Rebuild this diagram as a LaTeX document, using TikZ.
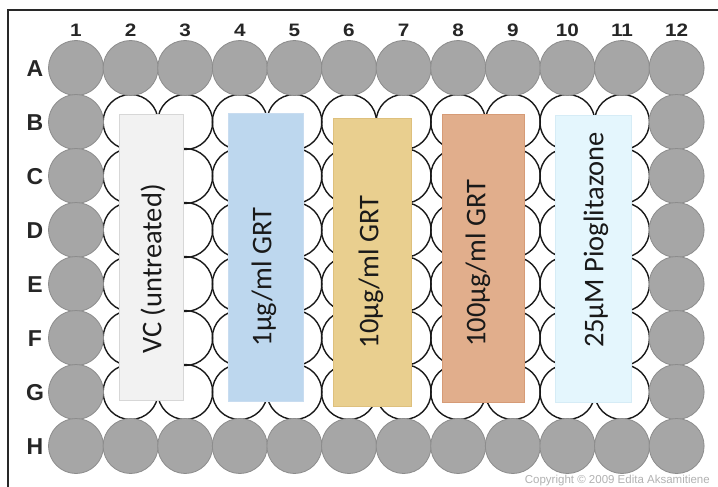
\documentclass[tikz,border=0pt]{standalone}
\usepackage{fontspec}
\setmainfont{Carlito}
\newfontfamily\arialf{Liberation Sans}
\definecolor{wellgray}{RGB}{166,166,166}
\definecolor{welledge}{RGB}{140,140,140}
\definecolor{vcfill}{RGB}{242,242,242}
\definecolor{vcedge}{RGB}{215,215,215}
\definecolor{bluefill}{RGB}{189,215,238}
\definecolor{blueedge}{RGB}{200,220,240}
\definecolor{yellfill}{RGB}{233,207,143}
\definecolor{yelledge}{RGB}{222,192,125}
\definecolor{orfill}{RGB}{225,174,140}
\definecolor{oredge}{RGB}{214,155,118}
\definecolor{cyanfill}{RGB}{228,246,253}
\definecolor{cyanedge}{RGB}{214,236,246}
\definecolor{framec}{RGB}{40,40,40}
\begin{document}
\begin{tikzpicture}[x=1pt,y=-1pt,
  innerwell/.style={circle,draw=black!90,line width=1.4pt,minimum size=55pt,inner sep=0pt},
  outerwell/.style={circle,draw=welledge,fill=wellgray,line width=0.8pt,minimum size=55pt,inner sep=0pt},
  treat/.style={rectangle,line width=1pt,inner sep=0pt},
  treattext/.style={rotate=90,font=\fontsize{28.5}{30}\selectfont,text=black!90,inner sep=0pt},
  collab/.style={font=\arialf\bfseries\fontsize{18}{20}\selectfont,text=black!85,inner sep=0pt},
  rowlab/.style={font=\arialf\bfseries\fontsize{23}{25}\selectfont,text=black!85,inner sep=0pt}]
\useasboundingbox (0,0) rectangle (718,487);
\fill[white] (0,0) rectangle (718,487);
\coordinate (fbl) at (8,487);
\coordinate (ftl) at (8,10);
\coordinate (ftr) at (718,10);
\draw[framec,line width=2pt] (fbl) -- (ftl) -- (ftr);
% inner wells
\foreach \r in {2,...,7}{
  \foreach \c in {2,...,11}{
    \node[innerwell] (w-\r-\c) at ({76+54.6*(\c-1)},{68+54*(\r-1)}) {};
  }
}
% outer wells
\foreach \c in {1,...,12}{
  \node[outerwell] (w-1-\c) at ({76+54.6*(\c-1)},68) {};
}
\foreach \r in {2,...,7}{
  \node[outerwell] (w-\r-1) at (76,{68+54*(\r-1)}) {};
  \node[outerwell] (w-\r-12) at ({76+54.6*11},{68+54*(\r-1)}) {};
}
\foreach \c in {1,...,12}{
  \node[outerwell] (w-8-\c) at ({76+54.6*(\c-1)},446) {};
}
% labels
\foreach \c in {1,...,12}{
  \node[collab] (col-\c) at ({76+54.6*(\c-1)},30) {\scalebox{1.15}[1]{\c}};
}
\foreach \l [count=\r] in {A,B,C,D,E,F,G,H}{
  \node[rowlab] (row-\r) at (35,{68.5+54*(\r-1)}) {\l};
}
% treatment bars
\node[treat,draw=vcedge,fill=vcfill,minimum width=64pt,minimum height=286pt] (vc) at (151,257) {};
\node[treat,draw=blueedge,fill=bluefill,minimum width=75pt,minimum height=288pt] (g1) at (265.5,257) {};
\node[treat,draw=yelledge,fill=yellfill,minimum width=78pt,minimum height=288pt] (g10) at (372,262) {};
\node[treat,draw=oredge,fill=orfill,minimum width=82pt,minimum height=288pt] (g100) at (483,258) {};
\node[treat,draw=cyanedge,fill=cyanfill,minimum width=76pt,minimum height=287pt] (pio) at (593,258.5) {};
\node[treattext] (vct) at (153,269) {VC (untreated)};
\node[treattext] (g1t) at (264,277) {1µg/ml GRT};
\node[treattext] (g10t) at (371,272) {10µg/ml GRT};
\node[treattext] (g100t) at (478,263) {100µg/ml GRT};
\node[treattext] (piot) at (596,240) {25µM Pioglitazone};
% copyright
\node[font=\arialf\fontsize{11.5}{13}\selectfont,text=black!30,anchor=east,inner sep=0pt] (copy) at (710,481) {Copyright © 2009 Edita Aksamitiene};
\end{tikzpicture}
\end{document}
